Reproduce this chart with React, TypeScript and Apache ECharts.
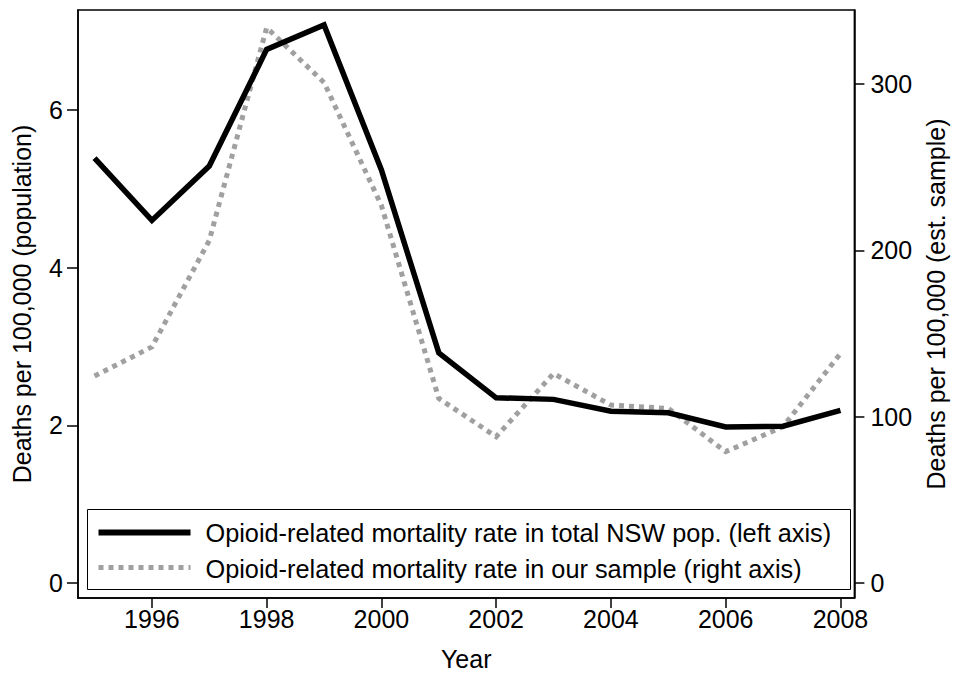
import React, { useEffect, useRef } from "react";
import * as echarts from "echarts";

// Years covered and the two mortality series
const years = [1995, 1996, 1997, 1998, 1999, 2000, 2001, 2002, 2003, 2004, 2005, 2006, 2007, 2008];
// Opioid-related deaths per 100,000, total NSW population (left axis)
const nswRate = [5.39, 4.6, 5.29, 6.77, 7.08, 5.24, 2.92, 2.35, 2.33, 2.18, 2.16, 1.98, 1.99, 2.19];
// Opioid-related deaths per 100,000, estimated sample (right axis)
const sampleRate = [124.5, 142, 206, 334, 301, 227, 111, 88, 126, 107, 105, 79, 94, 138];

const xTicks = [1996, 1998, 2000, 2002, 2004, 2006, 2008];
const leftTicks = [0, 2, 4, 6];
const rightTicks = [0, 100, 200, 300];

const legendLabels = [
  "Opioid-related mortality rate in total NSW pop. (left axis)",
  "Opioid-related mortality rate in our sample (right axis)",
];

const FONT = "'Liberation Sans', Arial, Helvetica, sans-serif";
const GRAY = "#a0a0a0";

export default function App() {
  const ref = useRef<HTMLDivElement>(null);

  useEffect(() => {
    if (!ref.current) return;
    const chart = echarts.init(ref.current, null, { renderer: "svg" });

    const axisText = { color: "#000", fontSize: 25, fontFamily: FONT };

    chart.setOption({
      animation: false,
      backgroundColor: "#fff",
      textStyle: { fontFamily: FONT },
      grid: {
        left: 78,
        right: 98,
        top: 10,
        bottom: 80,
        show: true,
        borderColor: "#000",
        borderWidth: 1.5,
        backgroundColor: "transparent",
      },
      xAxis: {
        type: "value",
        min: 1994.712,
        max: 2008.243,
        name: "Year",
        nameLocation: "middle",
        nameGap: 48,
        nameTextStyle: axisText,
        axisLine: { show: true, onZero: false, lineStyle: { color: "#000", width: 1.5 } },
        axisTick: { show: true, length: 10, customValues: xTicks, lineStyle: { color: "#000", width: 1.5 } },
        axisLabel: { ...axisText, margin: 8, customValues: xTicks, formatter: (v: number) => String(v) },
        splitLine: { show: false },
      },
      yAxis: [
        {
          type: "value",
          position: "left",
          min: -0.19,
          max: 7.27,
          name: "Deaths per 100,000 (population)",
          nameLocation: "middle",
          nameRotate: 90,
          nameGap: 44,
          nameTextStyle: axisText,
          axisLine: { show: true, onZero: false, lineStyle: { color: "#000", width: 1.5 } },
          axisTick: { show: true, length: 11, customValues: leftTicks, lineStyle: { color: "#000", width: 1.5 } },
          axisLabel: { ...axisText, margin: 15, customValues: leftTicks },
          splitLine: { show: false },
        },
        {
          type: "value",
          position: "right",
          min: -9.0,
          max: 344.6,
          name: "Deaths per 100,000 (est. sample)",
          nameLocation: "middle",
          nameRotate: 90,
          nameGap: 68,
          nameTextStyle: axisText,
          axisLine: { show: true, onZero: false, lineStyle: { color: "#000", width: 1.5 } },
          axisTick: { show: true, length: 10, customValues: rightTicks, lineStyle: { color: "#000", width: 1.5 } },
          axisLabel: { ...axisText, margin: 16, customValues: rightTicks },
          splitLine: { show: false },
        },
      ],
      series: [
        {
          name: legendLabels[1],
          type: "line",
          yAxisIndex: 1,
          data: years.map((y, i) => [y, sampleRate[i]]),
          showSymbol: false,
          symbol: "none",
          lineStyle: { color: GRAY, width: 5, type: [5, 5], cap: "butt", join: "miter" },
          z: 2,
        },
        {
          name: legendLabels[0],
          type: "line",
          yAxisIndex: 0,
          data: years.map((y, i) => [y, nswRate[i]]),
          showSymbol: false,
          symbol: "none",
          lineStyle: { color: "#000", width: 5.5, cap: "butt", join: "miter" },
          z: 3,
        },
      ],
      graphic: [
        {
          type: "group",
          left: 87,
          top: 509,
          z: 10,
          children: [
            {
              type: "rect",
              shape: { x: 0, y: 0, width: 763, height: 80 },
              style: { fill: "#fff", stroke: "#000", lineWidth: 1 },
            },
            {
              type: "line",
              shape: { x1: 11, y1: 23, x2: 103, y2: 23 },
              style: { stroke: "#000", lineWidth: 6 },
            },
            {
              type: "line",
              shape: { x1: 11, y1: 58, x2: 103, y2: 58 },
              style: { stroke: GRAY, lineWidth: 5, lineDash: [5, 5] },
            },
            {
              type: "text",
              x: 118,
              y: 23,
              style: { text: legendLabels[0], fill: "#000", fontSize: 25.3, fontFamily: FONT, verticalAlign: "middle" },
            },
            {
              type: "text",
              x: 118,
              y: 59,
              style: { text: legendLabels[1], fill: "#000", fontSize: 25.3, fontFamily: FONT, verticalAlign: "middle" },
            },
          ],
        },
      ],
    });

    return () => chart.dispose();
  }, []);

  return (
    <div
      ref={ref}
      style={{ position: "fixed", left: 0, top: 0, width: 956, height: 678 }}
    />
  );
}
